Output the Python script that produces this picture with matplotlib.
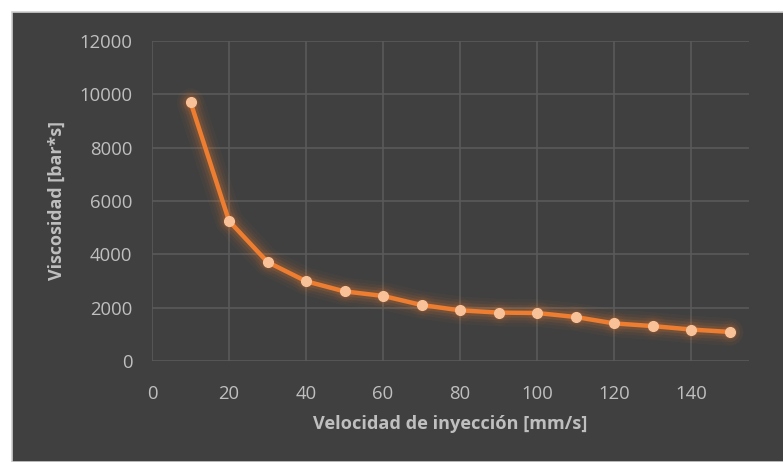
import matplotlib
matplotlib.use("Agg")
import matplotlib.pyplot as plt
from matplotlib.patches import Rectangle

velocidad = [10, 20, 30, 40, 50, 60, 70, 80, 90, 100, 110, 120, 130, 140, 150]
viscosidad = [9710, 5250, 3710, 2990, 2610, 2440, 2100, 1900, 1815, 1800, 1650, 1410, 1310, 1180, 1090]
x_ticks = [0, 20, 40, 60, 80, 100, 120, 140]
y_ticks = [0, 2000, 4000, 6000, 8000, 10000, 12000]
x_label = "Velocidad de inyección [mm/s]"
y_label = "Viscosidad [bar*s]"

plt.rcParams['font.family'] = ['Open Sans', 'DejaVu Sans']

W, H = 783, 462
fig = plt.figure(figsize=(W / 100, H / 100), dpi=100)
fig.patch.set_facecolor('white')
bg = Rectangle((11.5 / W, 0), 1, (H - 11.5) / H, transform=fig.transFigure,
               facecolor='#404040', edgecolor='#D0D0D0', linewidth=1.2, zorder=-10)
fig.add_artist(bg)

ax = fig.add_axes([152 / W, (H - 361) / H, 597 / W, 320 / H])
ax.set_zorder(1)
ax.patch.set_visible(False)
for s in ax.spines.values():
    s.set_visible(False)

ax.set_xlim(0, 155)
ax.set_ylim(0, 12000)
ax.set_xticks(x_ticks)
ax.set_yticks(y_ticks)
ax.grid(True, color='#5A5A5A', linewidth=1.2)
ax.set_axisbelow(True)
ax.tick_params(length=0, colors='#BFBFBF', labelsize=13.3)
ax.tick_params(axis='x', pad=17)
ax.tick_params(axis='y', pad=14)

# glow
for lw, a in [(20, 0.04), (15, 0.06), (11, 0.09), (7, 0.14)]:
    ax.plot(velocidad, viscosidad, color='#ED7D31', linewidth=lw, alpha=a,
            solid_capstyle='round', solid_joinstyle='round', zorder=2)
    ax.plot(velocidad, viscosidad, linestyle='none', marker='o', markersize=lw * 0.9,
            markerfacecolor='#ED7D31', markeredgecolor='none', alpha=a * 0.8, zorder=2)
ax.plot(velocidad, viscosidad, color='#ED7D31', linewidth=3.2,
        solid_joinstyle='round', zorder=3)
ax.plot(velocidad, viscosidad, linestyle='none', marker='o', markersize=7,
        markerfacecolor='#F8C197', markeredgecolor='#F8C197', zorder=4)

ax.set_xlabel(x_label, color='#BFBFBF', fontsize=13.1, fontweight='bold', labelpad=9)
ax.set_ylabel(y_label, color='#BFBFBF', fontsize=12.9, fontweight='bold', labelpad=10)

fig.savefig('out.png', dpi=100, facecolor=fig.get_facecolor())
